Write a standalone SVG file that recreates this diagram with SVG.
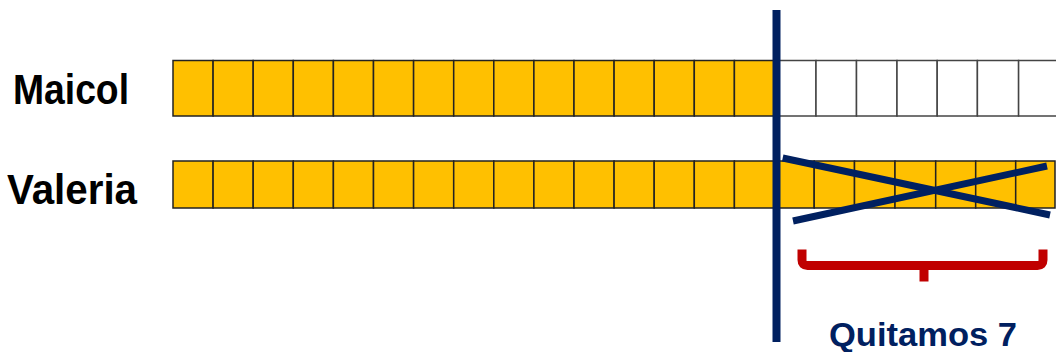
<svg xmlns="http://www.w3.org/2000/svg" width="1056" height="352" viewBox="0 0 1056 352">
<style>
.lbl{font-family:"Liberation Sans",Arial,sans-serif;font-weight:bold;font-size:43px;fill:#000}
.y{fill:#FFC000;stroke:#222;stroke-width:1.5}
.w{fill:#fff;stroke:#444;stroke-width:1.5}
.nav{stroke:#002060;fill:none}
</style>
<rect width="1056" height="352" fill="#fff"/>
<g id="label-maicol"><text class="lbl" x="13" y="104" textLength="116" lengthAdjust="spacingAndGlyphs">Maicol</text></g>
<g id="label-valeria"><text class="lbl" x="7" y="204" textLength="130" lengthAdjust="spacingAndGlyphs">Valeria</text></g>
<g id="bar-maicol">
<rect class="y" x="173" y="60.5" width="40.1" height="55.5"/>
<rect class="y" x="213.1" y="60.5" width="40.1" height="55.5"/>
<rect class="y" x="253.2" y="60.5" width="40.1" height="55.5"/>
<rect class="y" x="293.3" y="60.5" width="40.1" height="55.5"/>
<rect class="y" x="333.4" y="60.5" width="40.1" height="55.5"/>
<rect class="y" x="373.5" y="60.5" width="40.1" height="55.5"/>
<rect class="y" x="413.6" y="60.5" width="40.1" height="55.5"/>
<rect class="y" x="453.7" y="60.5" width="40.1" height="55.5"/>
<rect class="y" x="493.8" y="60.5" width="40.1" height="55.5"/>
<rect class="y" x="533.9" y="60.5" width="40.1" height="55.5"/>
<rect class="y" x="574" y="60.5" width="40.1" height="55.5"/>
<rect class="y" x="614.1" y="60.5" width="40.1" height="55.5"/>
<rect class="y" x="654.2" y="60.5" width="40.1" height="55.5"/>
<rect class="y" x="694.3" y="60.5" width="40.1" height="55.5"/>
<rect class="y" x="734.4" y="60.5" width="40.1" height="55.5"/>
<rect class="w" x="774.5" y="60.5" width="41.5" height="55.5"/>
<rect class="w" x="816" y="60.5" width="40.5" height="55.5"/>
<rect class="w" x="856.5" y="60.5" width="40.5" height="55.5"/>
<rect class="w" x="897" y="60.5" width="40.2" height="55.5"/>
<rect class="w" x="937.2" y="60.5" width="40.2" height="55.5"/>
<rect class="w" x="977.4" y="60.5" width="41.2" height="55.5"/>
<rect class="w" x="1018.6" y="60.5" width="42" height="55.5"/>
</g>
<g id="bar-valeria">
<rect class="y" x="173" y="161" width="40.1" height="47"/>
<rect class="y" x="213.1" y="161" width="40.1" height="47"/>
<rect class="y" x="253.2" y="161" width="40.1" height="47"/>
<rect class="y" x="293.3" y="161" width="40.1" height="47"/>
<rect class="y" x="333.4" y="161" width="40.1" height="47"/>
<rect class="y" x="373.5" y="161" width="40.1" height="47"/>
<rect class="y" x="413.6" y="161" width="40.1" height="47"/>
<rect class="y" x="453.7" y="161" width="40.1" height="47"/>
<rect class="y" x="493.8" y="161" width="40.1" height="47"/>
<rect class="y" x="533.9" y="161" width="40.1" height="47"/>
<rect class="y" x="574" y="161" width="40.1" height="47"/>
<rect class="y" x="614.1" y="161" width="40.1" height="47"/>
<rect class="y" x="654.2" y="161" width="40.1" height="47"/>
<rect class="y" x="694.3" y="161" width="40.1" height="47"/>
<rect class="y" x="734.4" y="161" width="40.1" height="47"/>
<rect class="y" x="774.5" y="161" width="39.7" height="47"/>
<rect class="y" x="814.2" y="161" width="40.3" height="47"/>
<rect class="y" x="854.5" y="161" width="40.5" height="47"/>
<rect class="y" x="895" y="161" width="40.7" height="47"/>
<rect class="y" x="935.7" y="161" width="40" height="47"/>
<rect class="y" x="975.7" y="161" width="40" height="47"/>
<rect class="y" x="1015.7" y="161" width="39.3" height="47"/>
</g>
<g id="connectors">
<line class="nav" x1="776.5" y1="10" x2="776.5" y2="342" stroke-width="8"/>
<line class="nav" x1="782.7" y1="158" x2="1050" y2="215" stroke-width="7"/>
<line class="nav" x1="793" y1="221" x2="1047" y2="166" stroke-width="7"/>
<path d="M802,249.5 V260 Q802,265.5 807.5,265.5 H1037.5 Q1043,265.5 1043,260 V249.5 M924,265.5 V281.5" fill="none" stroke="#C00000" stroke-width="9"/>
</g>
<g id="label-quitamos"><text x="829" y="346" font-family="&quot;Liberation Sans&quot;,Arial,sans-serif" font-weight="bold" font-size="33.5" fill="#002060" textLength="188" lengthAdjust="spacingAndGlyphs">Quitamos 7</text></g>
</svg>
